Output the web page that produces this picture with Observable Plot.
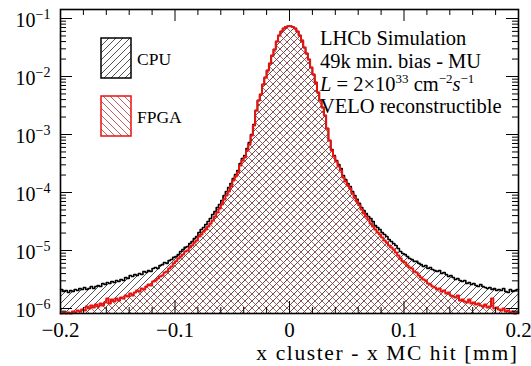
<!DOCTYPE html>
<html><head><meta charset="utf-8">
<script src="https://cdn.jsdelivr.net/npm/d3@7"></script>
<script src="https://cdn.jsdelivr.net/npm/@observablehq/plot@0.6"></script>
<style>
html,body{margin:0;padding:0;background:#fff;overflow:hidden;}
</style>
</head><body><div id="chart"></div>
<script>
// ---- data ----
const binRange = [-0.2, 0.2];
const nBins = 200;
const cpu = [
2.13e-6,1.96e-6,2.04e-6,1.89e-6,2.04e-6,1.96e-6,2.13e-6,2.04e-6,2.21e-6,2.13e-6,
2.30e-6,2.13e-6,2.21e-6,2.39e-6,2.21e-6,2.39e-6,2.49e-6,2.39e-6,2.70e-6,2.59e-6,
2.81e-6,2.70e-6,2.92e-6,2.81e-6,3.04e-6,2.92e-6,3.16e-6,3.04e-6,3.42e-6,3.29e-6,
3.70e-6,3.56e-6,3.85e-6,3.70e-6,4.01e-6,3.85e-6,4.34e-6,4.17e-6,4.5e-6,4.34e-6,
4.9e-6,5.1e-6,4.9e-6,5.5e-6,5.7e-6,6.2e-6,6.0e-6,6.7e-6,7.0e-6,7.6e-6,
7.9e-6,8.5e-6,9.6e-6,1.04e-5,1.13e-5,1.17e-5,1.32e-5,1.43e-5,1.61e-5,1.74e-5,
2.04e-5,2.30e-5,2.49e-5,2.81e-5,3.16e-5,3.56e-5,4.17e-5,4.7e-5,5.5e-5,6.2e-5,
7.3e-5,8.9e-5,1.04e-4,1.22e-4,1.43e-4,1.74e-4,2.04e-4,2.39e-4,3.16e-4,3.85e-4,
4.34e-4,5.73e-4,7.27e-4,1.00e-3,1.49e-3,2.59e-3,3.85e-3,4.89e-3,7.28e-3,9.61e-3,
0.01269,0.01675,0.0230,0.0292,0.0401,0.0509,0.0597,0.0672,0.0714,0.0736,
0.0736,0.0714,0.0672,0.0597,0.0509,0.0417,0.0316,0.0249,0.0196,0.01429,
0.01082,0.00788,0.00530,0.00385,0.00292,0.00213,0.00127,7.88e-4,5.51e-4,4.34e-4,
3.56e-4,3.04e-4,2.59e-4,1.96e-4,1.67e-4,1.43e-4,1.27e-4,1.04e-4,8.9e-5,7.6e-5,
6.5e-5,5.5e-5,4.9e-5,4.34e-5,3.85e-5,3.56e-5,3.16e-5,2.70e-5,2.49e-5,2.30e-5,
2.04e-5,1.89e-5,1.74e-5,1.55e-5,1.43e-5,1.32e-5,1.22e-5,1.08e-5,9.6e-6,8.9e-6,
8.5e-6,7.9e-6,7.3e-6,7.0e-6,6.5e-6,6.5e-6,6.0e-6,5.7e-6,5.3e-6,5.5e-6,
4.9e-6,5.1e-6,4.7e-6,4.5e-6,4.34e-6,4.5e-6,4.01e-6,4.17e-6,3.85e-6,3.56e-6,
3.70e-6,3.42e-6,3.16e-6,3.29e-6,3.04e-6,2.92e-6,3.04e-6,2.70e-6,2.81e-6,2.59e-6,
2.70e-6,2.49e-6,2.39e-6,2.59e-6,2.39e-6,2.30e-6,2.21e-6,2.30e-6,2.13e-6,2.21e-6,
2.04e-6,2.13e-6,2.04e-6,2.21e-6,1.96e-6,1.89e-6,2.13e-6,1.96e-6,2.04e-6,2.13e-6
];
const fpga = [
8.2e-7,8.5e-7,8.2e-7,8.5e-7,8.2e-7,8.9e-7,8.5e-7,9.2e-7,8.9e-7,9.6e-7,
9.2e-7,1.08e-6,1.00e-6,1.13e-6,1.04e-6,1.17e-6,1.08e-6,1.22e-6,1.13e-6,1.27e-6,
1.49e-6,1.22e-6,1.43e-6,1.32e-6,1.49e-6,1.37e-6,1.55e-6,1.49e-6,1.67e-6,1.61e-6,
1.81e-6,1.67e-6,1.89e-6,2.04e-6,1.96e-6,2.21e-6,2.13e-6,2.39e-6,2.59e-6,2.49e-6,
2.92e-6,3.04e-6,3.29e-6,3.56e-6,3.70e-6,4.17e-6,4.34e-6,4.9e-6,5.3e-6,6.0e-6,
6.5e-6,7.3e-6,7.9e-6,8.5e-6,9.6e-6,1.00e-5,1.13e-5,1.22e-5,1.37e-5,1.49e-5,
1.74e-5,1.89e-5,2.13e-5,2.30e-5,2.59e-5,2.92e-5,3.29e-5,3.85e-5,4.5e-5,5.3e-5,
6.2e-5,7.6e-5,8.9e-5,1.04e-4,1.27e-4,1.61e-4,1.89e-4,2.21e-4,2.92e-4,3.56e-4,
4.01e-4,5.30e-4,6.72e-4,9.6e-4,1.43e-3,2.59e-3,3.85e-3,4.89e-3,7.28e-3,9.61e-3,
0.01269,0.01675,0.0230,0.0292,0.0401,0.0509,0.0597,0.0672,0.0714,0.0736,
0.0736,0.0714,0.0672,0.0597,0.0509,0.0417,0.0316,0.0249,0.0196,0.01429,
0.01082,0.00788,0.00530,0.00385,0.00292,0.00213,0.00127,7.88e-4,5.30e-4,4.17e-4,
3.42e-4,2.81e-4,2.39e-4,1.81e-4,1.55e-4,1.32e-4,1.17e-4,9.6e-5,8.2e-5,7.0e-5,
6.0e-5,5.1e-5,4.34e-5,3.85e-5,3.42e-5,2.92e-5,2.59e-5,2.30e-5,2.04e-5,1.89e-5,
1.67e-5,1.49e-5,1.37e-5,1.22e-5,1.13e-5,1.04e-5,9.2e-6,8.2e-6,7.3e-6,6.5e-6,
6.2e-6,5.5e-6,5.1e-6,4.9e-6,4.34e-6,4.17e-6,3.70e-6,3.42e-6,3.16e-6,3.04e-6,
2.70e-6,2.59e-6,2.39e-6,2.30e-6,2.13e-6,2.21e-6,1.96e-6,2.04e-6,1.81e-6,1.89e-6,
1.67e-6,1.61e-6,1.55e-6,1.67e-6,1.37e-6,1.43e-6,1.32e-6,1.27e-6,1.43e-6,1.22e-6,
1.27e-6,1.17e-6,1.22e-6,1.13e-6,1.08e-6,1.17e-6,1.04e-6,1.08e-6,1.49e-6,1.00e-6,
1.04e-6,9.6e-7,9.2e-7,1.00e-6,8.9e-7,9.2e-7,8.5e-7,8.9e-7,8.2e-7,8.5e-7
];
const yDomain = [8.2e-7, 0.143];
const xMajorTicks = [-0.2, -0.1, 0, 0.1, 0.2];
const xTickLabels = ["\u22120.2", "\u22120.1", "0", "0.1", "0.2"];
const yMajorTicks = [1e-6, 1e-5, 1e-4, 1e-3, 1e-2, 1e-1];
const yTickExponents = ["\u22126", "\u22125", "\u22124", "\u22123", "\u22122", "\u22121"];
const xTitle = "x cluster - x MC hit [mm]";
const seriesNames = ["CPU", "FPGA"];
const infoLines = ["LHCb Simulation", "49k min. bias - MU", "VELO reconstructible"];

// ---- derived ----
const binW = (binRange[1] - binRange[0]) / nBins;
function steps(vals) {
  const pts = vals.map((v, i) => ({x: binRange[0] + i * binW, v}));
  pts.push({x: binRange[1], v: vals[vals.length - 1]});
  return pts;
}
const cpuSteps = steps(cpu), fpgaSteps = steps(fpga);
const xMinor = d3.range(-10, 11).filter(k => k % 5 !== 0).map(k => k * 0.02);
const yMinor = [];
for (let e = -7; e <= -1; e++) for (let m = 2; m <= 9; m++) {
  const v = m * Math.pow(10, e);
  if (v > yDomain[0] && v < yDomain[1]) yMinor.push(v);
}

const W = 531, H = 366, mt = 9, mb = 53, ml = 60, mr = 13;
const pw = W - ml - mr, ph = H - mt - mb;
const FONT = "Liberation Serif, 'Times New Roman', serif";

const chart = Plot.plot({
  width: W, height: H,
  marginTop: mt, marginBottom: mb, marginLeft: ml, marginRight: mr,
  x: {domain: binRange, axis: null},
  y: {type: "log", domain: yDomain, axis: null, clamp: true},
  style: {fontFamily: FONT, background: "white", color: "black", overflow: "visible"},
  marks: [
    Plot.areaY(cpuSteps, {x: "x", y1: yDomain[0], y2: "v", curve: "step-after", fill: "url(#hatchCPU)"}),
    Plot.areaY(fpgaSteps, {x: "x", y1: yDomain[0], y2: "v", curve: "step-after", fill: "url(#hatchFPGA)"}),
    Plot.lineY(cpuSteps, {x: "x", y: "v", curve: "step-after", stroke: "black", strokeWidth: 1.6}),
    Plot.lineY(fpgaSteps, {x: "x", y: "v", curve: "step-after", stroke: "#e8130f", strokeWidth: 2}),
    // ticks (ROOT style, inside)
    Plot.tickX(xMajorTicks, {x: d => d, insetTop: ph - 12, stroke: "black"}),
    Plot.tickX(xMinor, {x: d => d, insetTop: ph - 6, stroke: "black"}),
    Plot.tickX(xMajorTicks, {x: d => d, insetBottom: ph - 12, stroke: "black"}),
    Plot.tickX(xMinor, {x: d => d, insetBottom: ph - 6, stroke: "black"}),
    Plot.tickY(yMajorTicks, {y: d => d, insetRight: pw - 12, stroke: "black"}),
    Plot.tickY(yMinor, {y: d => d, insetRight: pw - 6, stroke: "black"}),
    Plot.tickY(yMajorTicks, {y: d => d, insetLeft: pw - 12, stroke: "black"}),
    Plot.tickY(yMinor, {y: d => d, insetLeft: pw - 6, stroke: "black"}),
    Plot.frame({stroke: "black", strokeWidth: 1.6}),
    // tick labels
    Plot.text(xMajorTicks, {x: d => d, frameAnchor: "bottom", text: (d, i) => xTickLabels[i], dy: 23, lineAnchor: "bottom", fontSize: 21, fill: "black"}),
    Plot.text(yMajorTicks, {y: d => d, frameAnchor: "left", text: () => "10", textAnchor: "end", dx: -25, dy: 8, lineAnchor: "bottom", fontSize: 20, fill: "black"}),
    Plot.text(yMajorTicks, {y: d => d, frameAnchor: "left", text: (d, i) => yTickExponents[i], textAnchor: "start", dx: -25, dy: 0, lineAnchor: "bottom", fontSize: 14, fill: "black"}),
    Plot.text([xTitle], {frameAnchor: "bottom-right", textAnchor: "end", dy: 46, lineAnchor: "bottom", fontSize: 21.5, fill: "black", className: "xtitle"})
  ]
});
document.getElementById("chart").appendChild(chart);

// ---- hatch patterns, legend, annotations ----
const svg = d3.select(chart);
svg.selectAll(".xtitle text").attr("letter-spacing", 1.6);
const defs = svg.insert("defs", ":first-child");
const P = 7;
const pc = defs.append("pattern").attr("id", "hatchCPU").attr("patternUnits", "userSpaceOnUse").attr("width", P).attr("height", P);
pc.append("path").attr("d", `M-1,1 L1,-1 M0,${P} L${P},0 M${P-1},${P+1} L${P+1},${P-1}`)
  .attr("stroke", "#262626").attr("stroke-width", 0.8).attr("fill", "none");
const pf = defs.append("pattern").attr("id", "hatchFPGA").attr("patternUnits", "userSpaceOnUse").attr("width", P).attr("height", P);
pf.append("path").attr("d", `M${P-1},-1 L${P+1},1 M0,0 L${P},${P} M-1,${P-1} L1,${P+1}`)
  .attr("stroke", "#a83a3a").attr("stroke-width", 0.8).attr("fill", "none");

const leg = svg.append("g").attr("font-family", FONT).attr("font-size", 17.5).attr("text-anchor", "start");
const legItems = [
  {name: seriesNames[0], y: 38, stroke: "black", fill: "url(#hatchCPU)"},
  {name: seriesNames[1], y: 96, stroke: "#e8130f", fill: "url(#hatchFPGA)"}
];
for (const it of legItems) {
  leg.append("rect").attr("x", 101).attr("y", it.y).attr("width", 30).attr("height", 40)
    .attr("fill", "white");
  leg.append("rect").attr("x", 101).attr("y", it.y).attr("width", 30).attr("height", 40)
    .attr("fill", it.fill).attr("stroke", it.stroke).attr("stroke-width", 1.5);
  leg.append("text").attr("x", 137).attr("y", it.y + 27).attr("fill", "black").text(it.name);
}

const ann = svg.append("g").attr("font-family", FONT).attr("font-size", 20.5).attr("fill", "black").attr("text-anchor", "start");
ann.append("text").attr("x", 320).attr("y", 45).text(infoLines[0]);
ann.append("text").attr("x", 320).attr("y", 67.5).text(infoLines[1]);
const l3 = ann.append("text").attr("x", 320).attr("y", 91);
l3.append("tspan").attr("font-style", "italic").text("L");
l3.append("tspan").text(" = 2\u00d710");
l3.append("tspan").attr("dy", -8).attr("font-size", 13).text("33");
l3.append("tspan").attr("dy", 8).text(" cm");
l3.append("tspan").attr("dy", -8).attr("font-size", 13).text("\u22122");
l3.append("tspan").attr("dy", 8).attr("font-style", "italic").text("s");
l3.append("tspan").attr("dy", -8).attr("font-size", 13).text("\u22121");
ann.append("text").attr("x", 320).attr("y", 113).text(infoLines[2]);
</script>
</body></html>
